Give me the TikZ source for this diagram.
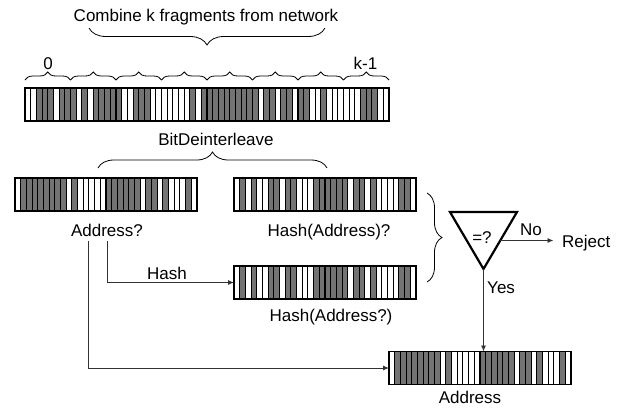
\documentclass[tikz,border=0pt]{standalone}
\usepackage{fontspec}
\setmainfont{Liberation Sans}
\usetikzlibrary{calc,decorations.pathreplacing,arrows.meta}
\definecolor{barg}{RGB}{115,115,115}
\definecolor{lnk}{RGB}{50,50,50}
\tikzset{
  lbl/.style={font=\fontsize{17}{20}\selectfont, inner sep=0pt, anchor=base},
  barnode/.style={inner sep=0pt, outer sep=0pt, minimum height=33pt},
  cellline/.style={draw=black, line width=1.1pt},
  barborder/.style={draw=black, line width=1.7pt},
  bracestyle/.style={decorate, draw=black, line width=0.8pt},
  conn/.style={draw=lnk, line width=0.9pt, -{Latex[length=6pt,width=5pt]}},
  tri/.style={draw=black, line width=2.2pt, line join=miter},
}
\newcommand{\bitcells}[3]{%
  \foreach \bv [count=\i from 0] in {#3} {%
    \ifnum\bv=1 \def\fc{barg}\else\def\fc{white}\fi
    \draw[cellline, fill=\fc] ($(#1.south west)+(\i*#2,0)$) rectangle ++(#2,33);
  }%
  \draw[barborder] (#1.south west) rectangle (#1.north east);
}
\begin{document}
\begin{tikzpicture}[x=1pt,y=1pt]
\useasboundingbox (0,0) rectangle (623,-408);
% title and its brace
\node[lbl] (title) at (206,-21) {Combine k fragments from network};
\coordinate (tb1) at (89,-28);
\coordinate (tb2) at (325,-28);
\draw[bracestyle, decoration={brace, mirror, amplitude=17pt}] (tb1) -- (tb2);
% fragment braces
\foreach \k in {0,...,8} {
  \coordinate (f\k) at ({25+45.5*\k},-80);
}
\foreach \k [count=\kn from 1] in {0,...,7} {
  \draw[bracestyle, decoration={brace, amplitude=8pt}] (f\k) -- (f\kn);
}
\node[lbl] (zero) at (48,-69) {0};
\node[lbl] (km1) at (365.5,-69) {k-1};
% combined bar
\node[barnode, minimum width=364pt] (big) at (207,-104.5) {};
\bitcells{big}{5.6875}{0,0,1,1,1,0,1,1,1,0,1,0,1,1,1,1,1,0,0,1,1,1,0,0,0,0,0,0,0,1,0,1,1,1,1,1,1,1,1,1,1,0,1,1,0,1,1,0,1,1,0,0,1,0,0,0,0,0,0,1,1,1,0,0}
% deinterleave
\node[lbl] (bdi) at (216,-145) {BitDeinterleave};
\coordinate (bd1) at (98,-168);
\coordinate (bd2) at (327,-168);
\draw[bracestyle, decoration={brace, amplitude=16pt}] (bd1) -- (bd2);
\node[barnode, minimum width=182pt] (addrq) at (106,-194.5) {};
\bitcells{addrq}{5.6875}{0,1,1,1,1,1,1,1,1,0,1,0,0,0,0,0,1,1,1,1,1,1,0,1,1,0,1,0,0,0,1,0}
\node[barnode, minimum width=182pt] (hashq) at (325,-194.5) {};
\bitcells{hashq}{5.6875}{0,1,0,1,0,0,1,1,0,1,1,0,0,0,1,1,1,1,1,1,0,1,1,0,1,0,0,0,0,1,1,0}
\node[lbl] (addrqlbl) at (107,-236) {Address?};
\node[lbl] (hashqlbl) at (329,-236) {Hash(Address)?};
% hash of address
\node[barnode, minimum width=182pt] (hasha) at (325,-282.5) {};
\bitcells{hasha}{5.6875}{0,1,0,1,0,0,1,1,0,1,1,0,0,0,1,1,1,1,1,1,0,1,1,0,1,0,0,0,0,1,1,0}
\node[lbl] (hashalbl) at (331,-321) {Hash(Address?)};
\coordinate (rb1) at (427,-193);
\coordinate (rb2) at (427,-282);
\draw[bracestyle, decoration={brace, amplitude=15pt}] (rb1) -- (rb2);
% final address
\node[barnode, minimum width=182pt] (addr) at (480,-368) {};
\bitcells{addr}{5.6875}{0,1,1,1,1,1,1,1,1,0,1,0,0,0,0,0,1,1,1,1,1,1,0,1,1,0,1,0,0,0,1,0}
\node[lbl] (addrlbl) at (470,-403) {Address};
% connectors
\coordinate (s1) at (88,-241);
\coordinate (s2) at (107,-241);
\draw[conn] (s2) |- (hasha.west);
\node[lbl] (hashlbl) at (167,-279) {Hash};
\draw[conn] (s1) |- (addr.west);
% comparator
\coordinate (t1) at (450,-212);
\coordinate (t2) at (517,-212);
\coordinate (t3) at (483.5,-269);
\draw[tri] (t1) -- (t2) -- (t3) -- cycle;
\node[lbl] (eq) at (482,-243) {=?};
\coordinate (tm) at ($(t2)!0.5!(t3)$);
\node[lbl, anchor=base west] (reject) at (562,-247) {Reject};
\draw[conn, shorten >=8.5pt] (tm) -- (tm -| reject.west);
\node[lbl, anchor=base west] (no) at (520,-235) {No};
\draw[conn] (t3) -- (t3 |- addr.north);
\node[lbl, anchor=base west] (yes) at (487,-293) {Yes};
\end{tikzpicture}
\end{document}
